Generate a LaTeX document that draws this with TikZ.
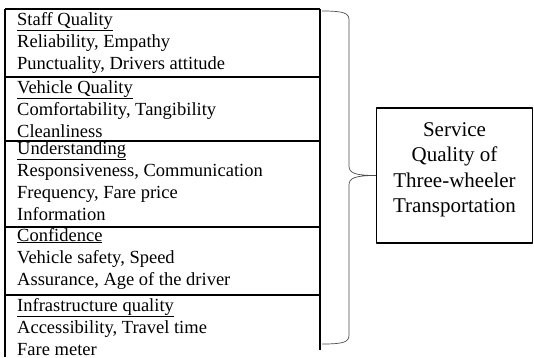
\documentclass[tikz,border=0pt]{standalone}
\usepackage{fontspec}
\setmainfont{Liberation Serif}
\begin{document}
\begin{tikzpicture}[x=1pt, y=-1pt, line join=round, line cap=butt,
	font=\fontsize{18.5}{22}\selectfont,
	rule/.style={line width=1.5pt},
	grp/.style={anchor=base west, align=left, inner sep=0pt},
	target/.style={draw, line width=1.4pt, minimum width=156pt, minimum height=135pt, align=center,
		text depth=16pt, font=\fontsize{21}{25.5}\selectfont},
	bracket/.style={draw=black!70, line width=0.7pt}]
	\useasboundingbox (0,0) rectangle (534,357);
	% table
	\draw[rule] (5,9)--(320,9);
	\draw[rule] (5,9)--(5,357);
	\draw[rule] (320,9)--(320,350);
	\foreach \y in {77,141,227,295} \draw[rule] (5,\y)--(320,\y);
	\node[grp] (staff) at (17,69) {\underline{Staff Quality}\\Reliability, Empathy\\Punctuality, Drivers attitude};
	\node[grp] (vehicle) at (17,137) {\underline{Vehicle Quality}\\Comfortability, Tangibility\\Cleanliness};
	\node[grp] (under) at (17,220) {\underline{Understanding}\\Responsiveness, Communication\\Frequency, Fare price\\Information};
	\node[grp] (conf) at (17,285) {\underline{Confidence}\\Vehicle safety, Speed\\Assurance, Age of the driver};
	\node[grp] (infra) at (17,355) {\underline{Infrastructure quality}\\Accessibility, Travel time\\Fare meter};
	% result
	\node[target] (sq) at (454.5,175.5) {Service\\Quality of\\Three-wheeler\\Transportation};
	\coordinate (tip) at (sq.west);
	\coordinate (btop) at (322,11);
	\coordinate (bbot) at (322,344);
	\draw[bracket] (btop) .. controls (344,11) and (349,13) .. (349,20) -- (349,166)
		.. controls (349,173) and (355,175.5) .. (tip)
		.. controls (355,175.5) and (349,178) .. (349,185) -- (349,335)
		.. controls (349,342) and (344,344) .. (bbot);
\end{tikzpicture}
\end{document}
